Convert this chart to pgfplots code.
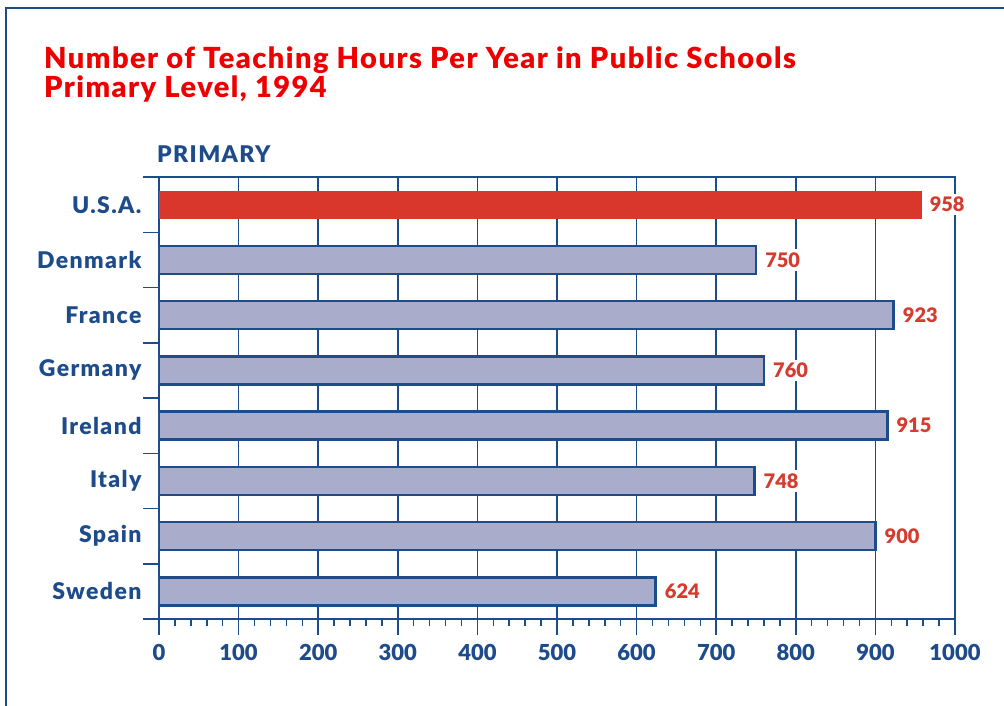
\documentclass[border=0pt]{standalone}
\usepackage{pgfplots}
\pgfplotsset{compat=1.18}
\usepackage{fontspec}
\setmainfont{Lato}[BoldFont={Lato Black}]
\newfontfamily\titlefont{Lato Black}[LetterSpace=5]
\newfontfamily\catfont{Lato Black}[LetterSpace=6]
\definecolor{dblue}{HTML}{1E4C8A}
\definecolor{tred}{HTML}{EE0000}
\definecolor{vred}{HTML}{D63B2F}
\definecolor{ured}{HTML}{D9372B}
\definecolor{barfill}{HTML}{A9ADCB}
\begin{document}
\begin{tikzpicture}[x=1pt,y=1pt]
\path[use as bounding box] (0,0) rectangle (1004,706);
\draw[dblue, line width=2.5pt] (6,0) -- (6,698) -- (1004,698);
\node[anchor=base west, text=tred, inner sep=0pt, font=\titlefont\fontsize{29}{30}\selectfont] at (44,637) {Number of Teaching Hours Per Year in Public Schools};
\node[anchor=base west, text=tred, inner sep=0pt, font=\titlefont\fontsize{29}{30}\selectfont] at (44,608) {Primary Level, 1994};
\node[anchor=base west, text=dblue, inner sep=0pt, font=\catfont\fontsize{23}{24}\selectfont] at (157,543) {PRIMARY};
\begin{axis}[at={(159pt,87pt)}, anchor=south west, scale only axis,
  width=796pt, height=442pt,
  xmin=0, xmax=1000, ymin=-0.5, ymax=7.5, y dir=reverse,
  xbar, bar width=28pt, bar shift=0pt,
  axis line style={dblue, line width=2.5pt},
  tick align=outside, xtick pos=bottom, ytick pos=left,
  xtick={0,100,...,1000}, minor x tick num=4,
  major tick length=14pt, minor tick length=7pt,
  every tick/.style={dblue, line width=1.5pt},
  xmajorgrids, major grid style={dblue, line width=1.5pt},
  ytick={-0.5,0.5,...,7.5}, yticklabels={},
  major tick length=16pt,
  extra y ticks={0,1,2,3,4,5,6,7},
  extra y tick labels={U.S.A.,Denmark,France,Germany,Ireland,Italy,Spain,Sweden},
  extra y tick style={major tick length=0pt, yticklabel style={xshift=-14pt}},
  yticklabel style={font=\catfont\fontsize{23}{24}\selectfont, text=dblue},
  xticklabel style={font=\bfseries\fontsize{22}{24}\selectfont, text=dblue, yshift=-6pt},
  /pgf/number format/assume math mode=true,
  /pgf/number format/set thousands separator={},
  nodes near coords,
  every node near coord/.append style={font=\bfseries\fontsize{20}{22}\selectfont, text=vred, fill=white, anchor=west, inner xsep=3pt, xshift=5pt},
]
\addplot[fill=barfill, draw=dblue, line width=2.5pt] coordinates {(750,1) (923,2) (760,3) (915,4) (748,5) (900,6) (624,7)};
\addplot[fill=ured, draw=none] coordinates {(958,0)};
\end{axis}
\end{tikzpicture}
\end{document}
